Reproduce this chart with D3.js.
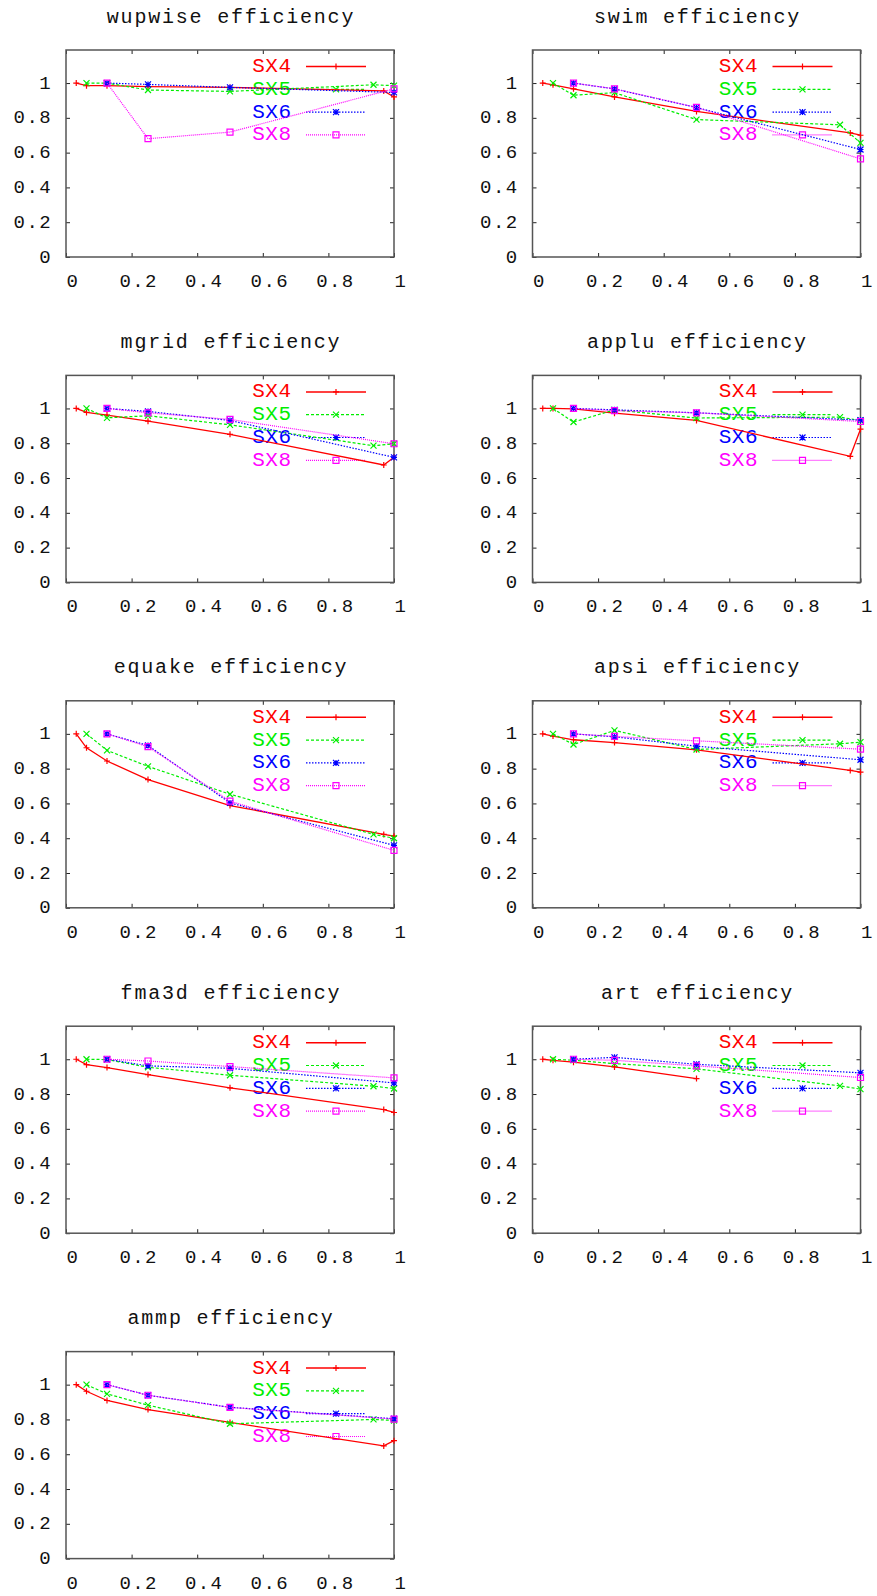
<!DOCTYPE html>
<html><head><meta charset="utf-8">
<script src="https://cdn.jsdelivr.net/npm/d3@7"></script>
<style>body{margin:0;background:#fff} svg{display:block}</style>
</head><body><svg id="c" width="877" height="1596"></svg>
<script>
const benchmarks = ["wupwise","swim","mgrid","applu","equake","apsi","fma3d","art","ammp"];
const seriesNames = ["SX4","SX5","SX6","SX8"];
const seriesColors = ["#ff0000","#00ee00","#0000ff","#ff00ff"];
const xTicks = [0,0.2,0.4,0.6,0.8,1];
const yTicks = [0,0.2,0.4,0.6,0.8,1];

const xSX4 = [0.03125,0.0625,0.125,0.25,0.5,0.96875,1];
const xSX5 = [0.0625,0.125,0.25,0.5,0.9375,1];
const xSX6 = [0.125,0.25,0.5,1];
const xSX8 = [0.125,0.25,0.5,1];

const ySX4 = [
  [1.0,0.985,0.985,0.98,0.975,0.955,0.92],
  [1.0,0.99,0.967,0.92,0.837,0.713,0.70],
  [1.0,0.977,0.962,0.927,0.851,0.675,0.719],
  [1.0,1.0,0.998,0.973,0.931,0.725,0.881],
  [1.0,0.92,0.844,0.737,0.588,0.422,0.412],
  [1.0,0.987,0.966,0.95,0.908,0.79,0.78],
  [1.0,0.969,0.952,0.912,0.836,0.711,0.694],
  [1.0,0.994,0.983,0.956,0.889],
  [1.0,0.962,0.909,0.857,0.783,0.648,0.678]
];
const ySX5 = [
  [1.0,1.0,0.96,0.952,0.99,0.985],
  [1.0,0.93,0.945,0.79,0.76,0.656],
  [1.0,0.946,0.958,0.906,0.786,0.797],
  [1.0,0.922,0.992,0.945,0.95,0.931],
  [1.0,0.905,0.813,0.653,0.422,0.40],
  [1.0,0.939,1.02,0.91,0.943,0.952],
  [1.0,0.998,0.954,0.908,0.845,0.832],
  [1.0,0.994,0.975,0.945,0.847,0.828],
  [1.0,0.947,0.882,0.775,0.80,0.794]
];
const ySX6 = [
  [1.0,0.992,0.975,0.946],
  [1.0,0.966,0.859,0.618],
  [1.0,0.983,0.931,0.719],
  [1.0,0.992,0.975,0.933],
  [1.0,0.933,0.603,0.359],
  [1.0,0.983,0.929,0.851],
  [1.0,0.962,0.948,0.864],
  [1.0,1.011,0.971,0.922],
  [1.0,0.939,0.87,0.804]
];
const ySX8 = [
  [1.0,0.68,0.718,0.967],
  [1.0,0.967,0.86,0.564],
  [1.0,0.975,0.937,0.797],
  [1.0,0.987,0.975,0.925],
  [1.0,0.926,0.613,0.33],
  [1.0,0.985,0.96,0.912],
  [1.0,0.99,0.958,0.893],
  [1.0,0.994,0.962,0.895],
  [1.0,0.939,0.869,0.802]
];

const xs = [xSX4,xSX5,xSX6,xSX8];
const ys = [ySX4,ySX5,ySX6,ySX8];
const dashes = [null,"3,2","1.5,1.5","1,1"];
const markers = ["plus","cross","star","square"];

const svg = d3.select("#c");
const W = 328, H = 207;
const colLeft = [66, 532.5];
const rowTop0 = 50, rowPitch = 325.4;
const FONT = "'Liberation Mono', 'DejaVu Sans Mono', monospace";

function markerPath(type, x, y, s) {
  const p = d3.path();
  if (type === "plus" || type === "star") {
    p.moveTo(x - s, y); p.lineTo(x + s, y);
    p.moveTo(x, y - s); p.lineTo(x, y + s);
  }
  if (type === "cross" || type === "star") {
    p.moveTo(x - s, y - s); p.lineTo(x + s, y + s);
    p.moveTo(x - s, y + s); p.lineTo(x + s, y - s);
  }
  if (type === "square") {
    p.rect(x - s, y - s, 2 * s, 2 * s);
  }
  return p.toString();
}

benchmarks.forEach((name, bi) => {
  const col = bi % 2, row = Math.floor(bi / 2);
  const left = colLeft[col], top = rowTop0 + row * rowPitch;
  const g = svg.append("g").attr("transform", `translate(${left},${top})`);
  const x = d3.scaleLinear().domain([0, 1]).range([0, W]);
  const y = d3.scaleLinear().domain([0, 1.19]).range([H, 0]);

  // title
  g.append("text")
    .attr("x", W / 2 + 1).attr("y", -33)
    .attr("text-anchor", "middle").attr("dominant-baseline", "central")
    .style("font-family", FONT).style("font-size", "20px").style("letter-spacing", "1.8px")
    .attr("fill", "#111").text(name + " efficiency");

  // axes
  const fmt = d3.format("");
  const ax = g.append("g").attr("transform", `translate(0,${H})`)
    .call(d3.axisBottom(x).tickValues(xTicks).tickFormat(fmt).tickSizeInner(-4).tickSizeOuter(0));
  ax.selectAll("text").attr("y", 25).attr("dy", null).attr("dx", 6.5)
    .attr("dominant-baseline", "central");
  const axT = g.append("g")
    .call(d3.axisTop(x).tickValues(xTicks).tickFormat("").tickSizeInner(-4).tickSizeOuter(0));
  const ay = g.append("g")
    .call(d3.axisLeft(y).tickValues(yTicks).tickFormat(fmt).tickSizeInner(-4).tickSizeOuter(0));
  ay.selectAll("text").attr("x", -14).attr("dy", null).attr("dominant-baseline", "central");
  const ayR = g.append("g").attr("transform", `translate(${W},0)`)
    .call(d3.axisRight(y).tickValues(yTicks).tickFormat("").tickSizeInner(-4).tickSizeOuter(0));
  [ax, axT, ay, ayR].forEach(a => {
    a.select(".domain").remove();
    a.selectAll("line").attr("stroke", "#222").attr("stroke-width", 1);
    a.selectAll("text").attr("fill", "#111")
      .style("font-family", FONT).style("font-size", "19px").style("letter-spacing", "1.4px");
  });
  g.append("rect").attr("x", 0).attr("y", 0).attr("width", W).attr("height", H)
    .attr("fill", "none").attr("stroke", "#555").attr("stroke-width", 1.5);

  // legend
  seriesNames.forEach((s, si) => {
    const ly = 16.5 + si * 22.8;
    g.append("text").attr("x", 225.5).attr("y", ly)
      .attr("text-anchor", "end").attr("dominant-baseline", "central")
      .style("font-family", FONT).style("font-size", "21px").style("letter-spacing", "0.5px")
      .attr("fill", seriesColors[si]).text(s);
    g.append("line").attr("x1", 240).attr("x2", 300).attr("y1", ly).attr("y2", ly)
      .attr("stroke", seriesColors[si]).attr("stroke-width", si === 0 ? 1.5 : 1.2)
      .attr("stroke-dasharray", dashes[si]);
    g.append("path").attr("d", markerPath(markers[si], 270, ly, 3))
      .attr("fill", "none").attr("stroke", seriesColors[si]).attr("stroke-width", 1.2);
  });

  // data
  seriesNames.forEach((s, si) => {
    const vals = ys[si][bi];
    const pts = vals.map((v, i) => [xs[si][i], v]);
    const line = d3.line().x(d => x(d[0])).y(d => y(d[1]));
    g.append("path").datum(pts).attr("d", line)
      .attr("fill", "none").attr("stroke", seriesColors[si])
      .attr("stroke-width", si === 0 ? 1.3 : 1.2)
      .attr("stroke-dasharray", dashes[si]);
    g.append("g").selectAll("path").data(pts).join("path")
      .attr("d", d => markerPath(markers[si], x(d[0]), y(d[1]), 3))
      .attr("fill", "none").attr("stroke", seriesColors[si]).attr("stroke-width", 1.2);
  });
});
</script></body></html>
